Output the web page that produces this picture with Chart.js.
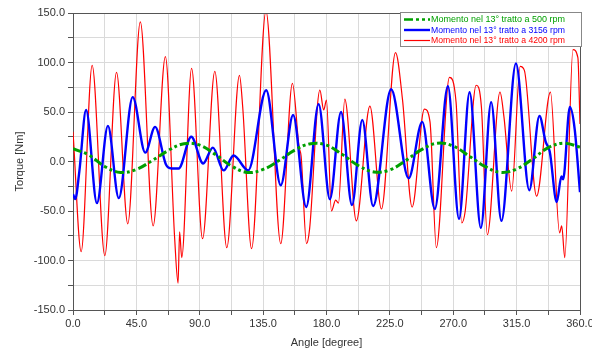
<!DOCTYPE html>
<html><head><meta charset="utf-8">
<script src="https://cdn.jsdelivr.net/npm/chart.js@4"></script>
<style>html,body{margin:0;padding:0;background:#fff}</style>
</head><body>
<canvas id="c" width="592" height="350"></canvas>
<script>
const seriesLabels = [
  "Momento nel 13\u00b0 tratto a 500 rpm",
  "Momento nel 13\u00b0 tratto a 3156 rpm",
  "Momento nel 13\u00b0 tratto a 4200 rpm"
];
const xTickValues = [0, 45, 90, 135, 180, 225, 270, 315, 360];
const yTickValues = [-150, -100, -50, 0, 50, 100, 150];

const greenAngles = [0, 11.25, 22.5, 33.75, 45, 56.25, 67.5, 78.75, 90, 101.25, 112.5, 123.75, 135, 146.25, 157.5, 168.75, 180, 191.25, 202.5, 213.75, 225, 236.25, 247.5, 258.75, 270, 281.25, 292.5, 303.75, 315, 326.25, 337.5, 348.75, 360];
const greenValues = [13, 6.5, -5, -11, -8, 1, 11, 18, 16.5, 7, -4.5, -11, -8, 1, 11.5, 18, 16.5, 7, -4, -10.5, -8.5, 1, 12, 18.5, 15.5, 5.5, -5, -11, -7.5, 2.5, 14, 18.5, 14.5];

const blueAngles = [0, 1.6, 4.5, 9.3, 17, 24.8, 32.5, 42.4, 51.3, 58.3, 66, 70, 75, 84, 92.4, 99.3, 107, 114, 124.4, 137.2, 147.5, 156.3, 165.6, 174.4, 182.4, 190.3, 198.1, 205.4, 213.1, 225.9, 238.3, 248, 256.9, 266.2, 274.1, 281.6, 289.6, 296.9, 304.2, 314.5, 324, 331.2, 335.6, 338.5, 343.5, 346.8, 348, 352.8, 356.2, 360];
const blueValues = [-33, -38, -10, 52, -42, 36, -37, 65, 9, 35, -3, -7, -7, 25, -2, 14, -9, 6, -9, 72, -24, 47, -46, 58, -38, 50, -44, 42, -45, 73, -17, 40, -48, 76, -58, 70, -67, 60, -60, 99, -29, 46, 20, 10, -41, -15, -18, 55, 33, -31];

const redAngles = [0, 5.8, 13.6, 22.6, 30.9, 38.9, 47.8, 56.9, 65.6, 72.2, 74.6, 75.7, 77.2, 84.2, 92, 100.7, 109.2, 118.2, 120.5, 126.8, 137, 147.5, 155.8, 160.5, 162, 165.8, 168, 175.3, 178, 180, 183.5, 186.5, 188.5, 193, 201.2, 210.8, 219, 229, 234, 240.8, 249.5, 253.5, 258, 267.3, 272, 276, 278.5, 286.3, 290, 294.2, 303.2, 306, 311.5, 317.5, 320.5, 329.2, 339, 345.5, 347, 349.2, 355, 358.5, 360];
const redValues = [30, -91, 97, -95, 90, -63, 141, -65, 106, -78, -123, -71, -97, 94, -78, 91, -87, 87, 55, -88, 152, -83, 79, 15, 5, -83, -68, 72, 52, 62, -50, -39, -42, 63, -60, 56, -48, 110, 62, -46, 53, 40, -87, 85, 60, -62, -50, 77, 55, -74, 70, 45, -30, 96, 92, -35, 70, -72, -65, -97, 113, 105, 38];

function pts(a, v) { return a.map((x, i) => ({x: x, y: v[i]})); }

const frameAndLegend = {
  id: 'frameAndLegend',
  afterDraw(chart) {
    const ctx = chart.ctx, a = chart.chartArea;
    ctx.save();
    ctx.strokeStyle = '#555';
    ctx.lineWidth = 1;
    ctx.beginPath();
    ctx.moveTo(a.left, a.top + 0.5); ctx.lineTo(a.right + 0.5, a.top + 0.5); ctx.lineTo(a.right + 0.5, a.bottom);
    ctx.stroke();
    const bx = 400.5, by = 12.5, bw = 181, bh = 34;
    ctx.fillStyle = '#fff';
    ctx.fillRect(bx, by, bw, bh);
    ctx.strokeStyle = '#888';
    ctx.strokeRect(bx, by, bw, bh);
    chart.data.datasets.forEach((ds, i) => {
      const y = by + 7 + i * 10.5;
      ctx.save();
      ctx.strokeStyle = ds.borderColor;
      ctx.lineWidth = Math.min(ds.borderWidth, 2.5);
      ctx.setLineDash(ds.borderDash || []);
      ctx.beginPath(); ctx.moveTo(404, y); ctx.lineTo(430, y); ctx.stroke();
      ctx.restore();
      ctx.fillStyle = ds.borderColor;
      ctx.font = '9px "Liberation Sans", Arial, sans-serif';
      ctx.textBaseline = 'middle';
      ctx.fillText(ds.label, 431, y + 0.5, 134);
    });
    ctx.restore();
  }
};

new Chart(document.getElementById('c'), {
  type: 'line',
  data: {
    datasets: [
      {label: seriesLabels[0], data: pts(greenAngles, greenValues), borderColor: '#00a000', borderWidth: 3, borderDash: [9, 3, 3, 3, 3, 3], tension: 0.4, pointRadius: 0, order: 1},
      {label: seriesLabels[1], data: pts(blueAngles, blueValues), borderColor: '#0000ff', borderWidth: 2.4, cubicInterpolationMode: 'monotone', pointRadius: 0, order: 2},
      {label: seriesLabels[2], data: pts(redAngles, redValues), borderColor: '#ff0000', borderWidth: 1.2, cubicInterpolationMode: 'monotone', pointRadius: 0, order: 3}
    ]
  },
  options: {
    responsive: false,
    animation: false,
    layout: {padding: {top: 13, right: 12, left: 0, bottom: 0}},
    plugins: {legend: {display: false}, tooltip: {enabled: false}},
    scales: {
      x: {
        type: 'linear', min: 0, max: 360,
        afterFit(s) { s.height = 40; s.paddingRight = 0; s.paddingLeft = 0; },
        ticks: {stepSize: 22.5, autoSkip: false, maxRotation: 0, padding: 2, color: '#333',
          font: {family: '"Liberation Sans", Arial, sans-serif', size: 11},
          callback: v => xTickValues.includes(v) ? v.toFixed(1) : ''},
        grid: {color: '#dadada', tickColor: '#555', tickLength: 5},
        border: {color: '#555'},
        title: {display: true, text: 'Angle [degree]', color: '#333', padding: {top: 0, bottom: 0},
          font: {family: '"Liberation Sans", Arial, sans-serif', size: 11}}
      },
      y: {
        min: -150, max: 150,
        afterFit(s) { s.width = 73; },
        ticks: {stepSize: 25, autoSkip: false, padding: 3, color: '#333',
          font: {family: '"Liberation Sans", Arial, sans-serif', size: 11},
          callback: v => yTickValues.includes(v) ? v.toFixed(1) : ''},
        grid: {color: '#dadada', tickColor: '#555', tickLength: 5},
        border: {color: '#555'},
        title: {display: true, text: 'Torque [Nm]', color: '#333', padding: {top: 13, bottom: 4},
          font: {family: '"Liberation Sans", Arial, sans-serif', size: 11}}
      }
    }
  },
  plugins: [frameAndLegend]
});
</script>
</body></html>
